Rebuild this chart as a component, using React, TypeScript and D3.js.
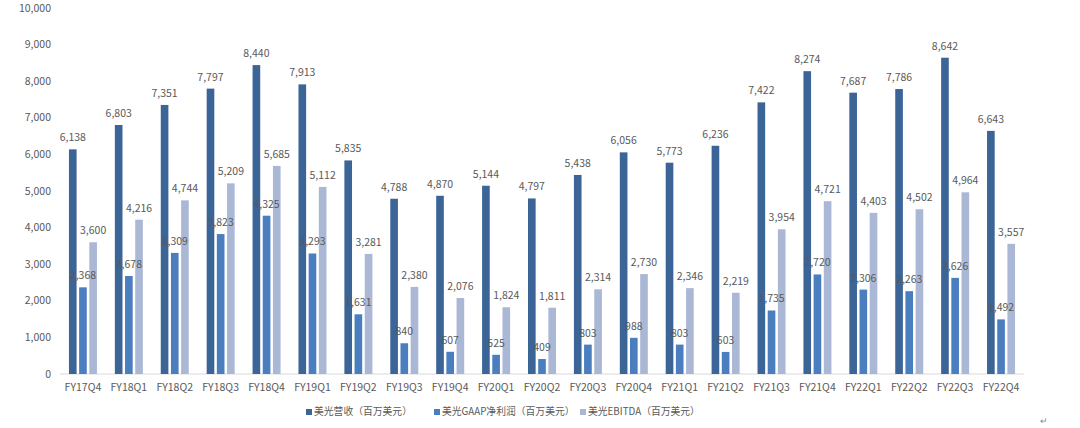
import * as d3 from "d3";

// quarters on the x axis
const quarters = [
  "FY17Q4", "FY18Q1", "FY18Q2", "FY18Q3", "FY18Q4", "FY19Q1", "FY19Q2",
  "FY19Q3", "FY19Q4", "FY20Q1", "FY20Q2", "FY20Q3", "FY20Q4", "FY21Q1",
  "FY21Q2", "FY21Q3", "FY21Q4", "FY22Q1", "FY22Q2", "FY22Q3", "FY22Q4",
];
// 美光营收（百万美元）
const revenue = [
  6138, 6803, 7351, 7797, 8440, 7913, 5835, 4788, 4870, 5144, 4797,
  5438, 6056, 5773, 6236, 7422, 8274, 7687, 7786, 8642, 6643,
];
// 美光GAAP净利润（百万美元）
const gaapIncome = [
  2368, 2678, 3309, 3823, 4325, 3293, 1631, 840, 607, 525, 409,
  803, 988, 803, 603, 1735, 2720, 2306, 2263, 2626, 1492,
];
// 美光EBITDA（百万美元）
const ebitda = [
  3600, 4216, 4744, 5209, 5685, 5112, 3281, 2380, 2076, 1824, 1811,
  2314, 2730, 2346, 2219, 3954, 4721, 4403, 4502, 4964, 3557,
];
const seriesNames = [
  "美光营收（百万美元）",
  "美光GAAP净利润（百万美元）",
  "美光EBITDA（百万美元）",
];
const yTicks = [0, 1000, 2000, 3000, 4000, 5000, 6000, 7000, 8000, 9000, 10000];

const colors = ["#3b6497", "#4a7ebf", "#aab8d6"];
const W = 1080;
const H = 428;
const font = "'Noto Sans CJK SC', 'Noto Sans', sans-serif";
const textColor = "#595959";

export default function App() {
  const series = [revenue, gaapIncome, ebitda];
  const x = d3.scaleBand<string>().domain(quarters).range([60, 1024]);
  const inner = d3
    .scaleBand<number>()
    .domain([0, 1, 2])
    .range([x.bandwidth() / 2 - 14, x.bandwidth() / 2 + 14])
    .paddingInner(0.25);
  const y = d3.scaleLinear().domain([0, 10000]).range([374, 8]);
  const fmt = d3.format(",");

  // legend layout (marker x positions)
  const legendX = [309, 437, 583];

  return (
    <svg
      width={W}
      height={H}
      style={{ position: "absolute", left: 0, top: 0, background: "#fff" }}
      fontFamily={font}
    >
      {/* y axis labels */}
      {yTicks.map((t) => (
        <text key={t} x={51} y={y(t)} dy="0.35em" textAnchor="end" fontSize={10.5} fill={textColor}>
          {fmt(t)}
        </text>
      ))}
      <line x1={60} x2={1024} y1={y(0)} y2={y(0)} stroke="#d9d9d9" strokeWidth={1} />

      {quarters.map((q, i) => (
        <g key={q} transform={`translate(${x(q)},0)`}>
          {series.map((s, k) => (
            <rect
              key={k}
              x={inner(k)}
              y={y(s[i])}
              width={inner.bandwidth()}
              height={y(0) - y(s[i])}
              fill={colors[k]}
            />
          ))}
          {series.map((s, k) => (
            <text
              key={"l" + k}
              x={inner(k)! + inner.bandwidth() / 2}
              y={y(s[i]) - 8}
              textAnchor="middle"
              fontSize={10.5}
              fill={textColor}
            >
              {fmt(s[i])}
            </text>
          ))}
          <text
            x={x.bandwidth() / 2}
            y={391}
            textAnchor="middle"
            fontSize={10.5}
            fill={textColor}
          >
            {q}
          </text>
        </g>
      ))}

      {/* legend */}
      {seriesNames.map((n, k) => (
        <g key={n} transform={`translate(${legendX[k]},412)`}>
          <rect x={-3} y={-3} width={6} height={6} fill={colors[k]} />
          <text x={5} y={0} dy="0.35em" fontSize={9.8} fill={textColor}>
            {n}
          </text>
        </g>
      ))}
      <text x={1040} y={424} fontSize={9} fill="#888">↵</text>
    </svg>
  );
}
